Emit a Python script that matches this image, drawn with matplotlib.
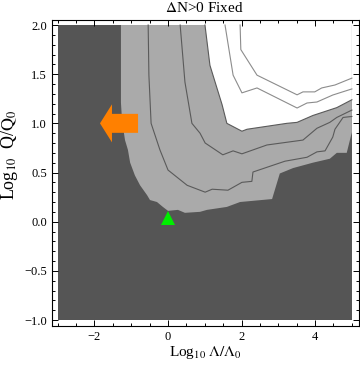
import matplotlib
matplotlib.use('Agg')
import matplotlib.pyplot as plt
from matplotlib.ticker import MultipleLocator
from matplotlib.patches import FancyArrow

plt.rcParams['font.family'] = 'Liberation Serif'
plt.rcParams['mathtext.fontset'] = 'stix'

# plot range of the data
x_range = [-3.0, 5.0]
y_range = [-1.0, 2.0]

# dark / grey border (lower-left region is dark)
dark_x = [-1.28, -1.28, -1.25, -1.17, -1.09, -1.03, -0.90, -0.76, -0.57, -0.49, -0.30, -0.14, 0.0,
          0.27, 0.46, 0.87, 1.06, 1.60, 1.96, 2.83, 3.04, 3.40, 3.94, 4.40, 4.59, 4.86, 5.0]
dark_y = [2.0, 1.21, 1.03, 0.83, 0.73, 0.60, 0.47, 0.37, 0.27, 0.22, 0.20, 0.15, 0.11,
          0.12, 0.09, 0.10, 0.12, 0.15, 0.20, 0.23, 0.49, 0.545, 0.60, 0.64, 0.70, 0.70, 0.91]

# grey / white border
white_x = [1.005, 1.14, 1.28, 1.47, 1.60, 2.01, 2.15, 3.23, 3.51, 3.94, 4.59, 5.0]
white_y = [2.0, 1.59, 1.42, 1.19, 1.00, 0.92, 0.94, 1.00, 1.01, 1.08, 1.16, 1.24]

# contour lines inside the grey band
lineA_x = [-0.54, -0.52, -0.46, -0.22, 0.0, 0.52, 0.87, 1.01, 1.20, 1.63, 2.01, 2.28, 2.31,
           3.18, 3.78, 4.05, 4.27, 4.48, 4.54, 4.76, 5.0]
lineA_y = [2.0, 1.49, 1.00, 0.73, 0.525, 0.37, 0.32, 0.30, 0.33, 0.32, 0.40, 0.41, 0.505,
           0.615, 0.655, 0.71, 0.72, 0.86, 0.94, 1.06, 1.07]
lineB_x = [0.33, 0.46, 0.65, 0.87, 1.01, 1.49, 1.77, 2.01, 2.69, 3.67, 4.05, 4.40, 4.59, 5.0]
lineB_y = [2.0, 1.42, 1.00, 0.90, 0.80, 0.68, 0.72, 0.69, 0.78, 0.83, 0.95, 1.01, 1.06, 1.135]

# contour lines in the white region
lineC_x = [1.55, 1.77, 2.01, 2.42, 3.51, 3.78, 4.05, 4.48, 5.0]
lineC_y = [2.0, 1.49, 1.31, 1.36, 1.156, 1.207, 1.217, 1.288, 1.35]
lineD_x = [1.96, 1.98, 2.42, 3.51, 3.67, 3.99, 4.18, 4.54, 5.0]
lineD_y = [2.0, 1.75, 1.49, 1.29, 1.32, 1.32, 1.36, 1.39, 1.46]

# markers
ref_point = (0.0, 0.04)
arrow_tail = (-0.815, 1.0)
arrow_len = 1.035

dark = '#555555'
grey = '#aaaaaa'

fig = plt.figure(figsize=(3.6, 3.67), dpi=100)
ax = fig.add_axes([52/360., 1 - 326/367., 306.5/360., 306/367.])

ax.fill([x_range[0], x_range[1], x_range[1], x_range[0]],
        [y_range[0], y_range[0], y_range[1], y_range[1]], color=dark, lw=0)
ax.fill(dark_x + [x_range[1]], dark_y + [y_range[1]], color=grey, lw=0)
ax.fill(white_x + [x_range[1]], white_y + [y_range[1]], color='white', lw=0)

ax.plot(white_x, white_y, color='#5a5a5a', lw=0.8)
ax.plot(lineA_x, lineA_y, color='#5a5a5a', lw=0.8)
ax.plot(lineB_x, lineB_y, color='#5a5a5a', lw=0.8)
ax.plot(lineC_x, lineC_y, color='#8c8c8c', lw=0.8)
ax.plot(lineD_x, lineD_y, color='#8c8c8c', lw=0.8)

ax.add_patch(FancyArrow(arrow_tail[0], arrow_tail[1], -arrow_len, 0, width=0.193,
                        head_width=0.387, head_length=0.326, length_includes_head=True,
                        color='#ff8000', lw=0))
ax.plot(ref_point[0], ref_point[1], marker='^', color='#00ee00', ms=9.5, mew=0)

ax.set_xlim(-3.155, 5.18)
ax.set_ylim(-1.061, 2.051)
ax.xaxis.set_major_locator(MultipleLocator(2))
ax.xaxis.set_minor_locator(MultipleLocator(0.5))
ax.yaxis.set_major_locator(MultipleLocator(0.5))
ax.yaxis.set_minor_locator(MultipleLocator(0.1))
ax.tick_params(which='both', direction='in', top=True, right=True, width=0.7, labelsize=9)
ax.tick_params(which='major', length=4)
ax.tick_params(which='minor', length=2)
for s in ax.spines.values():
    s.set_linewidth(0.8)

fig.text(0.567, 0.978, r'$\Delta$N>0 Fixed', ha='center', va='center', fontsize=11)
fig.text(0.570, 0.040, r'Log$_{10}$ $\Lambda/\Lambda_0$', ha='center', va='center', fontsize=11)
fig.text(0.026, 0.578, r'Log$_{10}$  Q/$\mathrm{Q}_0$', ha='center', va='center',
         rotation=90, fontsize=13)

fig.savefig('out.png', dpi=100)
